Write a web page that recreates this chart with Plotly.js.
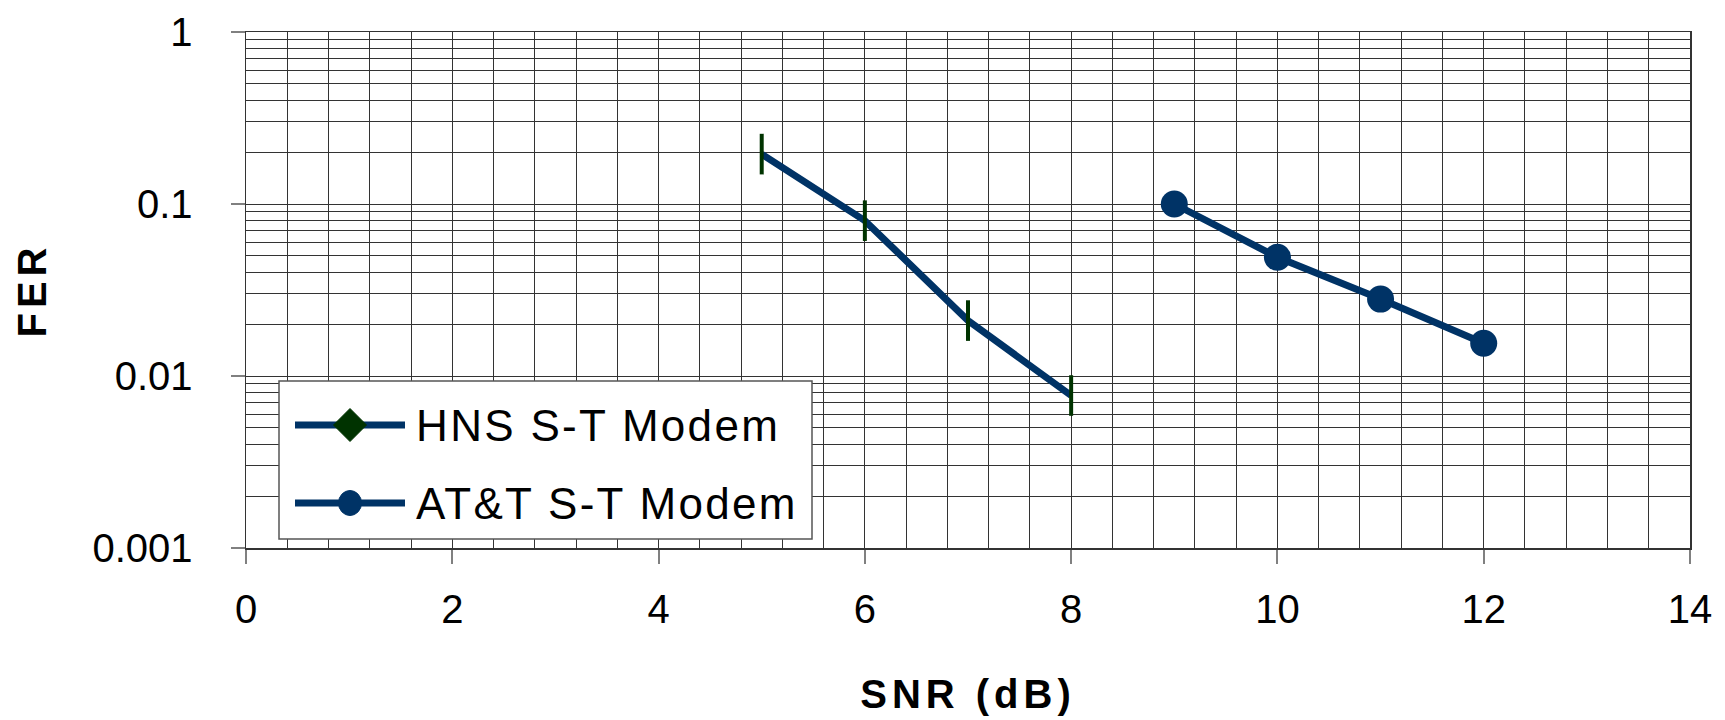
<!DOCTYPE html>
<html><head><meta charset="utf-8">
<script src="https://cdn.plot.ly/plotly-3.0.1.min.js"></script>
<style>html,body{margin:0;padding:0;background:#fff;}</style>
</head><body>
<div id="chart" style="width:1725px;height:720px;"></div>
<script>
const snrHNS = [5, 6, 7, 8];
const ferHNS = [0.195, 0.08, 0.021, 0.0077];
const snrATT = [9, 10, 11, 12];
const ferATT = [0.1, 0.049, 0.028, 0.0155];
const seriesNames = ['HNS S-T Modem', 'AT&T S-T Modem'];
const xTickVals = [0, 2, 4, 6, 8, 10, 12, 14];
const yTickVals = [0.001, 0.01, 0.1, 1];
const yTickText = ['0.001', '0.01', '0.1', '1'];
const xTitle = 'SNR (dB)';
const yTitle = 'FER';

const FONT = 'Liberation Sans, Arial, sans-serif';
const NAVY = '#003366';
const GREEN = '#003300';
const GRID = '#333333';

const W = 1725, H = 720;
const M = {l: 246, r: 35, t: 32, b: 172};
const PW = W - M.l - M.r, PH = H - M.t - M.b;
const px = x => (x - M.l) / PW;
const py = y => (H - M.b - y) / PH;

const traces = [
  {x: snrHNS, y: ferHNS, name: seriesNames[0], type: 'scatter', mode: 'lines+markers',
   line: {color: NAVY, width: 7},
   marker: {symbol: 'line-ns', size: 29, color: GREEN, line: {color: GREEN, width: 4}},
   showlegend: false},
  {x: snrATT, y: ferATT, name: seriesNames[1], type: 'scatter', mode: 'lines+markers',
   line: {color: NAVY, width: 7},
   marker: {symbol: 'circle', size: 27, color: NAVY},
   showlegend: false}
];

// custom legend (box, sample lines, symbols, labels)
const row1 = py(425), row2 = py(503);
const lx0 = px(295), lx1 = px(405), mx = px(350);
const dx = 16.5 / PW, dy = 16.5 / PH;
const LS = 2.3; // legend letter spacing (px)
const shapes = [
  {type: 'rect', xref: 'paper', yref: 'paper', x0: px(279), x1: px(812), y0: py(539), y1: py(381),
   fillcolor: '#ffffff', line: {color: '#555555', width: 1.5}, layer: 'above'},
  {type: 'line', xref: 'paper', yref: 'paper', x0: lx0, x1: lx1, y0: row1, y1: row1,
   line: {color: NAVY, width: 7}, layer: 'above'},
  {type: 'path', xref: 'paper', yref: 'paper',
   path: `M ${mx},${row1 + dy} L ${mx + dx},${row1} L ${mx},${row1 - dy} L ${mx - dx},${row1} Z`,
   fillcolor: GREEN, line: {color: GREEN, width: 1}, layer: 'above'},
  {type: 'line', xref: 'paper', yref: 'paper', x0: lx0, x1: lx1, y0: row2, y1: row2,
   line: {color: NAVY, width: 7}, layer: 'above'},
  {type: 'circle', xref: 'paper', yref: 'paper', x0: mx - 11.5 / PW, x1: mx + 11.5 / PW,
   y0: row2 - 12.5 / PH, y1: row2 + 12.5 / PH,
   fillcolor: NAVY, line: {color: NAVY, width: 1}, layer: 'above'}
];
const annotations = seriesNames.map((name, i) => ({
  xref: 'paper', yref: 'paper',
  x: px(414 + LS * name.length / 2), y: i === 0 ? row1 : row2,
  xanchor: 'left', yanchor: 'middle',
  text: name, showarrow: false, font: {family: FONT, size: 44, color: '#000'}
}));

const layout = {
  width: W, height: H,
  margin: M,
  paper_bgcolor: '#ffffff', plot_bgcolor: '#ffffff',
  font: {family: FONT, color: '#000'},
  showlegend: false,
  xaxis: {
    range: [0, 14], tickmode: 'array', tickvals: xTickVals,
    ticks: 'outside', ticklen: 14, tickwidth: 2, tickcolor: '#808080',
    ticklabelstandoff: 11,
    tickfont: {family: FONT, size: 40, color: '#000'},
    showgrid: true, gridcolor: GRID, gridwidth: 1,
    minor: {dtick: 0.4, tick0: 0, showgrid: true, gridcolor: GRID, gridwidth: 1},
    showline: true, linecolor: '#333', linewidth: 1.5, mirror: true,
    zeroline: false,
    title: {text: xTitle, font: {family: FONT, size: 40, weight: 'bold', color: '#000'}, standoff: 50}
  },
  yaxis: {
    type: 'log', range: [-3, 0], tickmode: 'array', tickvals: yTickVals, ticktext: yTickText,
    ticks: 'outside', ticklen: 14, tickwidth: 2, tickcolor: '#808080',
    ticklabelstandoff: 30,
    tickfont: {family: FONT, size: 40, color: '#000'},
    showgrid: true, gridcolor: GRID, gridwidth: 1,
    minor: {dtick: 'D1', showgrid: true, gridcolor: GRID, gridwidth: 1},
    showline: true, linecolor: '#333', linewidth: 1.5, mirror: true,
    zeroline: false,
    title: {text: yTitle, font: {family: FONT, size: 40, weight: 'bold', color: '#000'}, standoff: 33}
  },
  shapes: shapes,
  annotations: annotations
};

Plotly.newPlot('chart', traces, layout, {displayModeBar: false, staticPlot: true}).then(gd => {
  gd.querySelectorAll('.annotation-text').forEach(t => { t.style.letterSpacing = LS + 'px'; });
  gd.querySelectorAll('.xtitle, .ytitle').forEach(t => { t.style.letterSpacing = '5px'; });
});
</script>
</body></html>
